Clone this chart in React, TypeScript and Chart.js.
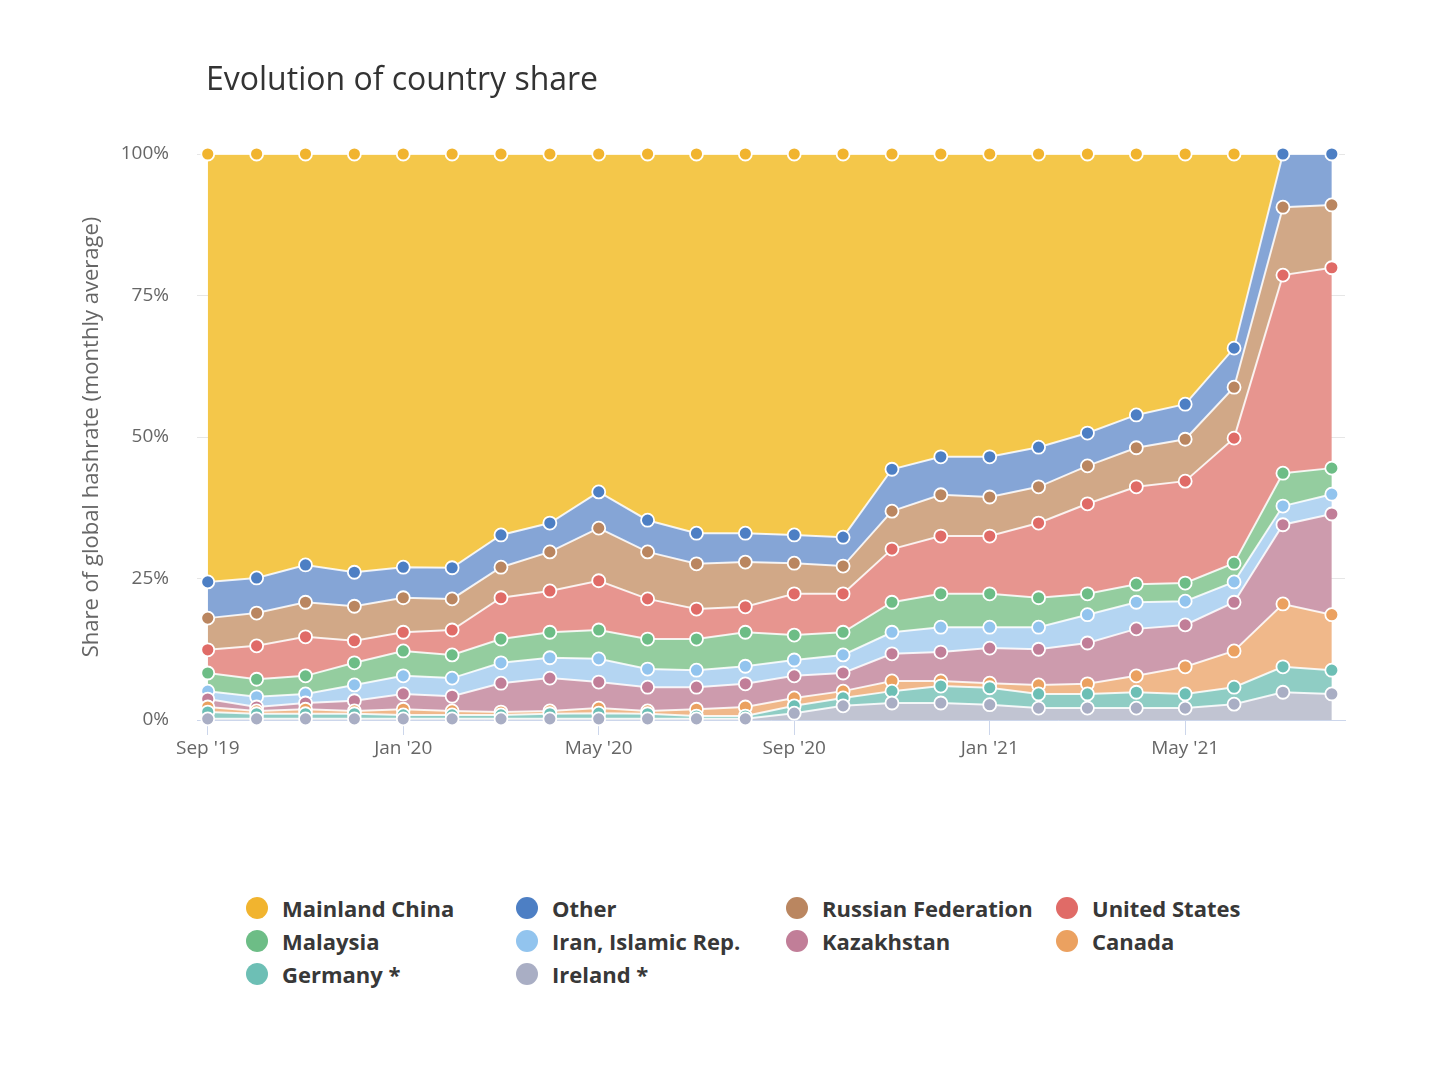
import React, { useEffect, useRef } from "react"
import Chart from "chart.js/auto"

const months = [
    "Sep '19", "Oct '19", "Nov '19", "Dec '19", "Jan '20", "Feb '20", "Mar '20", "Apr '20",
    "May '20", "Jun '20", "Jul '20", "Aug '20", "Sep '20", "Oct '20", "Nov '20", "Dec '20",
    "Jan '21", "Feb '21", "Mar '21", "Apr '21", "May '21", "Jun '21", "Jul '21", "Aug '21",
]
const xTickIndex = [0, 4, 8, 12, 16, 20]
const yTickValues = [0, 25, 50, 75, 100]

// monthly share of global hashrate, %
const mainlandChina = [75.6, 74.9, 72.6, 73.9, 73.0, 73.1, 67.3, 65.2, 59.7, 64.7, 67.0, 67.0, 67.3, 67.7, 55.7, 53.5, 53.5, 51.8, 49.3, 46.1, 44.2, 34.3, 0, 0]
const other = [6.4, 6.2, 6.6, 6.0, 5.4, 5.5, 5.7, 5.1, 6.4, 5.6, 5.4, 5.1, 5.0, 5.1, 7.4, 6.7, 7.1, 7.0, 5.8, 5.8, 6.2, 6.9, 9.4, 9.0]
const russia = [5.6, 5.8, 6.1, 6.1, 6.1, 5.5, 5.4, 6.9, 9.3, 8.3, 8.0, 7.9, 5.4, 4.9, 6.7, 7.3, 6.9, 6.4, 6.7, 6.9, 7.4, 9.0, 12.0, 11.1]
const unitedStates = [4.1, 5.9, 6.9, 3.9, 3.3, 4.4, 7.3, 7.3, 8.7, 7.1, 5.3, 4.5, 7.3, 6.8, 9.4, 10.2, 10.2, 13.2, 15.9, 17.2, 18.0, 22.1, 35.0, 35.4]
const malaysia = [3.2, 3.1, 3.2, 3.9, 4.4, 4.1, 4.2, 4.5, 5.1, 5.3, 5.5, 6.0, 4.4, 4.0, 5.3, 5.9, 5.9, 5.2, 3.7, 3.2, 3.2, 3.3, 5.8, 4.6]
const iran = [1.4, 1.8, 1.6, 2.8, 3.2, 3.2, 3.6, 3.6, 4.1, 3.2, 3.0, 3.1, 2.8, 3.2, 3.8, 4.4, 3.7, 3.9, 5.0, 4.7, 4.2, 3.6, 3.3, 3.5]
const kazakhstan = [1.4, 0.7, 1.1, 1.8, 2.7, 2.6, 5.1, 5.8, 4.6, 4.2, 3.9, 4.1, 3.9, 3.2, 4.8, 5.1, 6.2, 6.3, 7.2, 8.3, 7.4, 8.6, 14.0, 17.8]
const canada = [0.9, 0.5, 0.8, 0.5, 1.0, 0.7, 0.5, 0.5, 0.9, 0.5, 1.2, 1.6, 1.4, 1.2, 1.8, 0.9, 0.8, 1.6, 1.8, 2.9, 4.8, 6.4, 11.1, 9.8]
const germany = [1.2, 0.9, 0.9, 0.9, 0.7, 0.7, 0.7, 0.9, 1.0, 0.9, 0.5, 0.5, 1.3, 1.4, 2.1, 3.0, 3.0, 2.5, 2.5, 2.8, 2.5, 3.0, 4.5, 4.2]
const ireland = [0.2, 0.2, 0.2, 0.2, 0.2, 0.2, 0.2, 0.2, 0.2, 0.2, 0.2, 0.2, 1.2, 2.5, 3.0, 3.0, 2.7, 2.1, 2.1, 2.1, 2.1, 2.8, 4.9, 4.6]

interface ISeries {
    name: string
    values: number[]
    marker: string
    fill: string
}

// legend order, top of the stack first
const series: ISeries[] = [
    { name: "Mainland China", values: mainlandChina, marker: "#f1b42f", fill: "#f4c74a" },
    { name: "Other", values: other, marker: "#4d7fc4", fill: "#85a5d6" },
    { name: "Russian Federation", values: russia, marker: "#ba8660", fill: "#d1a887" },
    { name: "United States", values: unitedStates, marker: "#e06b67", fill: "#e7958f" },
    { name: "Malaysia", values: malaysia, marker: "#6dbd86", fill: "#94cd9f" },
    { name: "Iran, Islamic Rep.", values: iran, marker: "#92c4ee", fill: "#b4d5f2" },
    { name: "Kazakhstan", values: kazakhstan, marker: "#c17e98", fill: "#cd9bad" },
    { name: "Canada", values: canada, marker: "#eba160", fill: "#f0b88a" },
    { name: "Germany *", values: germany, marker: "#6dbfb5", fill: "#8fcdc4" },
    { name: "Ireland *", values: ireland, marker: "#a9aec4", fill: "#c1c4d2" },
]

const FONT = "'Open Sans', sans-serif"

const ShareChart = () => {
    const chartRef = useRef<HTMLCanvasElement | null>(null)

    useEffect(() => {
        const ctx = chartRef.current?.getContext("2d")
        if (!ctx) return

        Chart.defaults.font.family = FONT

        const datasets = [...series].reverse().map((s, i) => ({
            label: s.name,
            data: s.values.map((v, x) => ({ x, y: v })),
            fill: i === 0 ? "origin" : "-1",
            backgroundColor: s.fill,
            borderColor: "rgba(255,255,255,0.85)",
            borderWidth: 2,
            pointRadius: s.values.map((v) => (v > 0 ? 6.5 : 0)),
            pointBackgroundColor: s.marker,
            pointBorderColor: "#ffffff",
            pointBorderWidth: 1.8,
            tension: 0,
            clip: false as const,
        }))

        const chart = new Chart(ctx, {
            type: "line",
            data: { datasets } as any,
            options: {
                responsive: true,
                maintainAspectRatio: false,
                animation: false,
                layout: { padding: { left: 71, right: 94, top: 146, bottom: 8 } },
                plugins: {
                    legend: { display: false },
                    tooltip: { enabled: false },
                },
                scales: {
                    x: {
                        type: "linear",
                        min: -0.22,
                        max: 23.27,
                        afterBuildTicks: (axis: any) => {
                            axis.ticks = xTickIndex.map((value) => ({ value }))
                        },
                        afterFit: (axis: any) => {
                            axis.height = 60
                        },
                        grid: { drawOnChartArea: false, drawTicks: true, tickLength: 15, color: "#ccd6eb" },
                        border: { display: true, color: "#ccd6eb", width: 1 },
                        ticks: {
                            callback: (v: any) => months[v],
                            color: "#666666",
                            font: { size: 19, family: FONT },
                            padding: 2,
                            maxRotation: 0,
                            autoSkip: false,
                        },
                    },
                    y: {
                        stacked: true,
                        min: 0,
                        max: 100,
                        afterBuildTicks: (axis: any) => {
                            axis.ticks = yTickValues.map((value) => ({ value }))
                        },
                        afterFit: (axis: any) => {
                            axis.width = 118
                        },
                        grid: { color: "#e6e6e6", drawTicks: false },
                        border: { display: false },
                        ticks: {
                            callback: (v: any) => v + "%",
                            color: "#666666",
                            font: { size: 19, family: FONT },
                            padding: 28,
                        },
                        title: {
                            display: true,
                            text: "Share of global hashrate (monthly average)",
                            color: "#666666",
                            font: { size: 22, family: FONT },
                            padding: 0,
                        },
                    },
                },
            },
        })

        return () => {
            chart.destroy()
        }
    }, [])

    return <canvas ref={chartRef} />
}

const App = () => {
    return (
        <div style={{ position: "relative", width: 1431, height: 1040, fontFamily: FONT }}>
            <div style={{ position: "absolute", left: 0, top: 0, width: 1431, height: 780 }}>
                <ShareChart />
            </div>
            <div
                style={{
                    position: "absolute",
                    left: 198,
                    top: 54,
                    fontSize: 32,
                    lineHeight: "32px",
                    color: "#333333",
                    whiteSpace: "nowrap",
                }}
            >
                Evolution of country share
            </div>
            <div
                style={{
                    position: "absolute",
                    left: 238,
                    top: 883,
                    display: "grid",
                    gridTemplateColumns: "repeat(4, 270px)",
                }}
            >
                {series.map((s) => (
                    <div key={s.name} style={{ display: "flex", alignItems: "center", height: 33 }}>
                        <span
                            style={{
                                width: 22,
                                height: 22,
                                borderRadius: "50%",
                                background: s.marker,
                                marginRight: 14,
                                flex: "none",
                            }}
                        />
                        <span style={{ fontSize: 22, fontWeight: 700, color: "#383838", whiteSpace: "nowrap" }}>
                            {s.name}
                        </span>
                    </div>
                ))}
            </div>
        </div>
    )
}

export default App
